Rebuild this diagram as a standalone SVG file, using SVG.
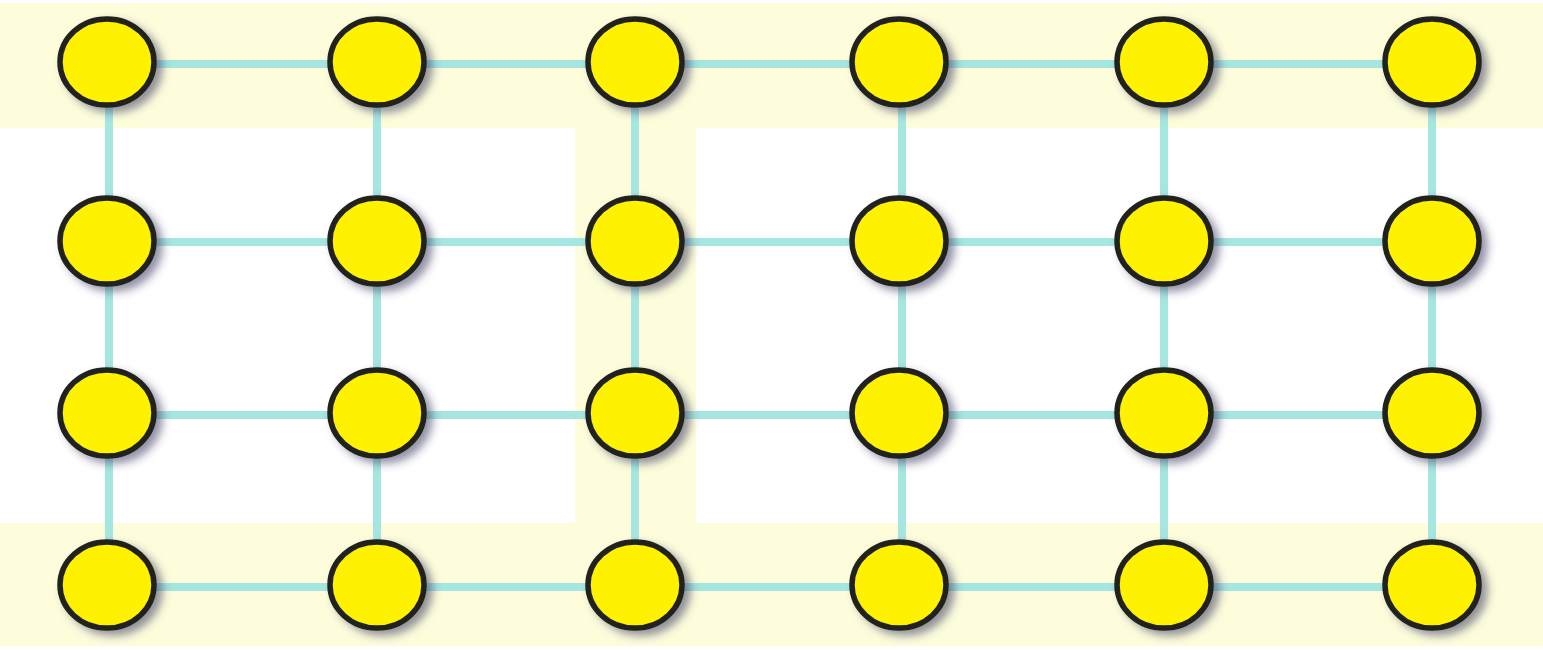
<svg xmlns="http://www.w3.org/2000/svg" width="1543" height="650" viewBox="0 0 1543 650">
<style>
.band{fill:#fdfddc}
.edge{stroke:#a6e6e0;stroke-width:8;fill:none}
.node ellipse{fill:#fff200;stroke:#24231e;stroke-width:5.5;filter:url(#sh)}
</style>
<defs>
<filter id="sh" x="-30%" y="-30%" width="170%" height="170%">
<feGaussianBlur in="SourceAlpha" stdDeviation="4.5"/>
<feOffset dx="6" dy="5" result="b"/>
<feFlood flood-color="#3a3a60" flood-opacity="0.55"/>
<feComposite in2="b" operator="in"/>
<feMerge><feMergeNode/><feMergeNode in="SourceGraphic"/></feMerge>
</filter>
</defs>
<rect width="1543" height="650" fill="#ffffff"/>
<rect class="band" x="0" y="3" width="1543" height="125"/>
<rect class="band" x="0" y="523" width="1543" height="123"/>
<rect class="band" x="575" y="128" width="121" height="395"/>
<g id="connectors">
<line class="edge" x1="107" y1="64" x2="1432" y2="64"/>
<line class="edge" x1="107" y1="242" x2="1432" y2="242"/>
<line class="edge" x1="107" y1="415" x2="1432" y2="415"/>
<line class="edge" x1="107" y1="587" x2="1432" y2="587"/>
<line class="edge" x1="109" y1="62" x2="109" y2="585"/>
<line class="edge" x1="377" y1="62" x2="377" y2="585"/>
<line class="edge" x1="635" y1="62" x2="635" y2="585"/>
<line class="edge" x1="902" y1="62" x2="902" y2="585"/>
<line class="edge" x1="1164" y1="62" x2="1164" y2="585"/>
<line class="edge" x1="1432" y1="62" x2="1432" y2="585"/>
</g>
<g id="n11" class="node"><ellipse cx="107" cy="62" rx="47" ry="43"/></g>
<g id="n12" class="node"><ellipse cx="377" cy="62" rx="47" ry="43"/></g>
<g id="n13" class="node"><ellipse cx="635" cy="62" rx="47" ry="43"/></g>
<g id="n14" class="node"><ellipse cx="899" cy="62" rx="47" ry="43"/></g>
<g id="n15" class="node"><ellipse cx="1164" cy="62" rx="47" ry="43"/></g>
<g id="n16" class="node"><ellipse cx="1432" cy="62" rx="47" ry="43"/></g>
<g id="n21" class="node"><ellipse cx="107" cy="241" rx="47" ry="43"/></g>
<g id="n22" class="node"><ellipse cx="377" cy="241" rx="47" ry="43"/></g>
<g id="n23" class="node"><ellipse cx="635" cy="241" rx="47" ry="43"/></g>
<g id="n24" class="node"><ellipse cx="899" cy="241" rx="47" ry="43"/></g>
<g id="n25" class="node"><ellipse cx="1164" cy="241" rx="47" ry="43"/></g>
<g id="n26" class="node"><ellipse cx="1432" cy="241" rx="47" ry="43"/></g>
<g id="n31" class="node"><ellipse cx="107" cy="413" rx="47" ry="43"/></g>
<g id="n32" class="node"><ellipse cx="377" cy="413" rx="47" ry="43"/></g>
<g id="n33" class="node"><ellipse cx="635" cy="413" rx="47" ry="43"/></g>
<g id="n34" class="node"><ellipse cx="899" cy="413" rx="47" ry="43"/></g>
<g id="n35" class="node"><ellipse cx="1164" cy="413" rx="47" ry="43"/></g>
<g id="n36" class="node"><ellipse cx="1432" cy="413" rx="47" ry="43"/></g>
<g id="n41" class="node"><ellipse cx="107" cy="585" rx="47" ry="43"/></g>
<g id="n42" class="node"><ellipse cx="377" cy="585" rx="47" ry="43"/></g>
<g id="n43" class="node"><ellipse cx="635" cy="585" rx="47" ry="43"/></g>
<g id="n44" class="node"><ellipse cx="899" cy="585" rx="47" ry="43"/></g>
<g id="n45" class="node"><ellipse cx="1164" cy="585" rx="47" ry="43"/></g>
<g id="n46" class="node"><ellipse cx="1432" cy="585" rx="47" ry="43"/></g>
</svg>
